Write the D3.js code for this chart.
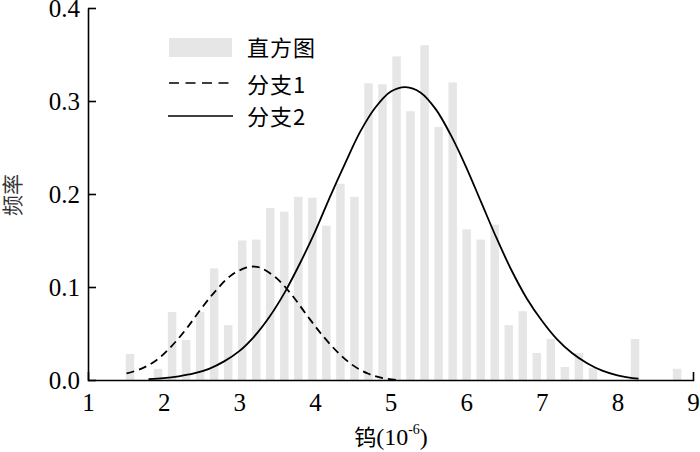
<!DOCTYPE html>
<html><head><meta charset="utf-8">
<script src="https://cdn.jsdelivr.net/npm/d3@7"></script>
<style>
body{margin:0;background:#fff;}
svg{display:block;}
</style>
</head><body>
<svg id="chart" width="700" height="452"></svg>
<script>
// ---- data ----
const binCenters = [1.555,1.741,1.926,2.112,2.297,2.483,2.668,2.854,3.039,3.225,
  3.410,3.596,3.781,3.967,4.152,4.338,4.523,4.709,4.894,5.080,
  5.265,5.451,5.636,5.822,6.007,6.193,6.378,6.564,6.749,6.935,
  7.120,7.306,7.491,7.677,7.862,8.048,8.233,8.419,8.604,8.790];
const frequencies = [0.028,0,0.012,0.073,0.043,0.073,0.120,0.059,0.150,0.151,
  0.185,0.181,0.197,0.196,0.166,0.211,0.197,0.319,0.318,0.348,
  0.289,0.360,0.272,0.320,0.162,0.151,0.167,0.059,0.074,0.029,
  0.044,0.014,0.029,0.013,0,0,0.044,0,0,0.012];
const branch1X = [1.51,1.7,1.9,2.1,2.3,2.5,2.7,2.9,3.1,3.2,3.3,3.5,3.7,3.9,4.1,4.3,4.5,4.7,4.9,5.1];
const branch1Y = [0.007,0.012,0.021,0.036,0.055,0.077,0.097,0.113,0.121,0.122,0.120,0.109,0.091,0.069,0.048,0.030,0.016,0.007,0.002,0.0];
const branch2X = [1.8,2.0,2.2,2.4,2.6,2.8,3.0,3.2,3.4,3.6,3.8,4.0,4.2,4.4,4.6,4.8,5.0,5.2,
  5.4,5.6,5.8,6.0,6.2,6.4,6.6,6.8,7.0,7.2,7.4,7.6,7.8,8.0,8.2,8.28];
const branch2Y = [0.001,0.002,0.004,0.007,0.012,0.020,0.031,0.047,0.068,0.094,0.125,0.159,0.197,0.233,0.267,0.293,0.310,0.315,
  0.309,0.291,0.263,0.229,0.191,0.153,0.118,0.088,0.064,0.044,0.029,0.018,0.010,0.005,0.002,0.0015];
const xTicks = [1,2,3,4,5,6,7,8,9];
const yTicks = [0.0,0.1,0.2,0.3,0.4];
const legendLabels = ["直方图","分支1","分支2"];
const xTitle = "钨", xTitleUnit = "(10", xTitleSup = "-6", xTitleEnd = ")";
const yTitle = "频率";

// ---- layout ----
const svg = d3.select("#chart");
const serif = "'Liberation Serif','Times New Roman',serif";
const cjk = "'Noto Sans CJK SC','Noto Sans CJK JP',sans-serif";
const x = d3.scaleLinear().domain([1,9]).range([88,693]);
const y = d3.scaleLinear().domain([0,0.4]).range([380,8]);
const barW = 0.112;

// bars
svg.append("g").selectAll("rect")
  .data(binCenters.map((c,i)=>({c, v:frequencies[i]})).filter(d=>d.v>0))
  .join("rect")
  .attr("x", d=>x(d.c - barW/2))
  .attr("width", d=>x(d.c + barW/2) - x(d.c - barW/2))
  .attr("y", d=>y(d.v))
  .attr("height", d=>y(0)-y(d.v))
  .attr("fill", "#e6e6e6");

// curves
const line = d3.line().x(d=>x(d[0])).y(d=>y(d[1])).curve(d3.curveCatmullRom.alpha(0.5));
svg.append("path")
  .attr("d", line(branch1X.map((v,i)=>[v,branch1Y[i]])))
  .attr("fill","none").attr("stroke","#000").attr("stroke-width",1.8)
  .attr("stroke-dasharray","8,5");
svg.append("path")
  .attr("d", line(branch2X.map((v,i)=>[v,branch2Y[i]])))
  .attr("fill","none").attr("stroke","#000").attr("stroke-width",1.8);

// axes
const xAxis = d3.axisBottom(x).tickValues(xTicks).tickFormat(d3.format("d"))
  .tickSizeInner(0).tickSizeOuter(-8).tickPadding(13);
const gx = svg.append("g").attr("transform","translate(0,380)").call(xAxis);
const yAxis = d3.axisLeft(y).tickValues(yTicks).tickFormat(d3.format(".1f"))
  .tickSizeInner(-8).tickSizeOuter(0).tickPadding(8);
const gy = svg.append("g").attr("transform","translate(88,0)").call(yAxis);
[gx,gy].forEach(g=>{
  g.selectAll("path,line").attr("stroke","#000").attr("stroke-width",1.6);
  g.selectAll("text").attr("font-family",serif).attr("font-size",25).attr("fill","#000");
});

// axis titles
const xt = svg.append("text").attr("x",391).attr("y",445).attr("text-anchor","middle")
  .attr("font-size",24).attr("fill","#000");
xt.append("tspan").attr("font-family",cjk).attr("font-size",22).text(xTitle);
xt.append("tspan").attr("font-family",serif).text(xTitleUnit);
xt.append("tspan").attr("font-family",serif).attr("font-size",14).attr("dy",-11).text(xTitleSup);
xt.append("tspan").attr("font-family",serif).attr("dy",11).text(xTitleEnd);

svg.append("text").attr("transform","translate(13,195) rotate(-90)")
  .attr("text-anchor","middle").attr("dy","0.35em")
  .attr("font-family",cjk).attr("font-size",21).attr("fill","#333").text(yTitle);

// legend
const lg = svg.append("g");
lg.append("rect").attr("x",169).attr("y",38).attr("width",63).attr("height",19).attr("fill","#e6e6e6");
lg.append("line").attr("x1",169).attr("x2",229).attr("y1",83).attr("y2",83)
  .attr("stroke","#000").attr("stroke-width",1.6).attr("stroke-dasharray","10,6.5");
lg.append("line").attr("x1",168).attr("x2",233).attr("y1",116).attr("y2",116)
  .attr("stroke","#000").attr("stroke-width",1.6);
const ly = [48,85,117];
legendLabels.forEach((t,i)=>{
  lg.append("text").attr("x",247).attr("y",ly[i]).attr("dy","0.36em")
    .attr("font-family",cjk).attr("font-size",22).attr("letter-spacing",1).attr("fill","#000").text(t);
});
</script>
</body></html>
